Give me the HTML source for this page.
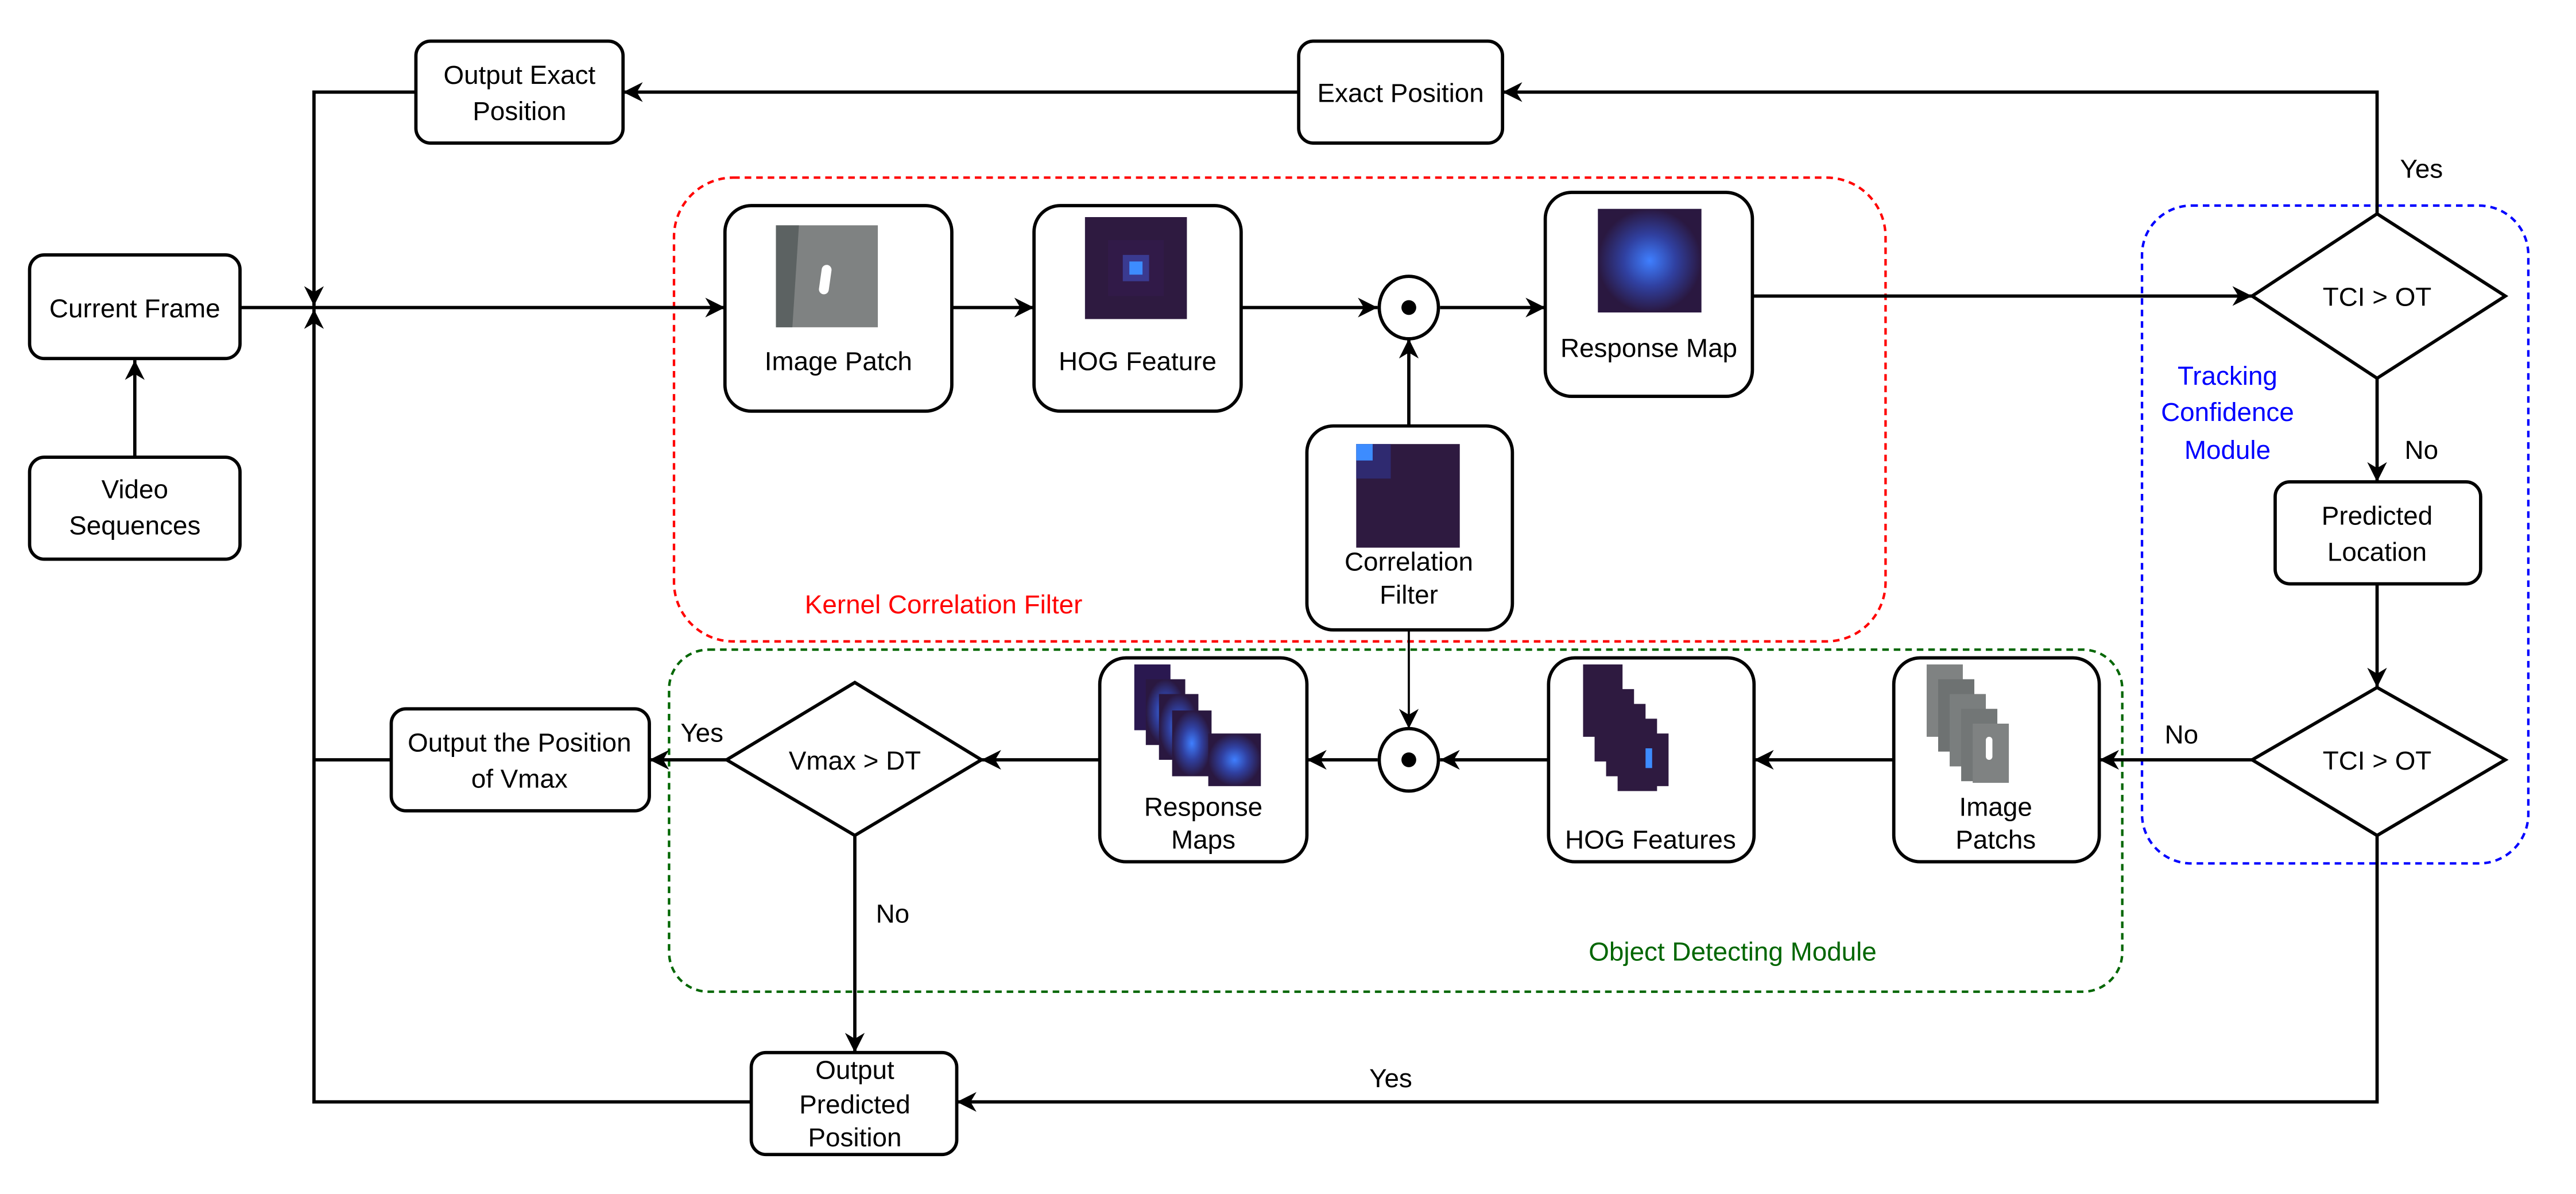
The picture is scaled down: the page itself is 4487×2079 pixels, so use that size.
<!DOCTYPE html>
<html><head><meta charset="utf-8"><style>
html,body{margin:0;padding:0;background:#fff;}
svg{display:block;}
text{font-family:"Liberation Sans",Arial,sans-serif;font-size:16px;fill:#000;text-anchor:middle;}
</style></head><body>
<svg width="4487" height="2079" viewBox="0 0 1567 726" preserveAspectRatio="none" xmlns="http://www.w3.org/2000/svg">
<defs>
<marker id="a" viewBox="0 0 10 10" refX="10" refY="5" markerWidth="13" markerHeight="12" markerUnits="userSpaceOnUse" orient="auto"><path d="M0,0 L10,5 L0,10 L3,5 Z" fill="#000"/></marker>
<radialGradient id="rg"><stop offset="0" stop-color="#3f7fff"/><stop offset="0.5" stop-color="#3040a0"/><stop offset="1" stop-color="#2a1840"/></radialGradient>
<g id="hog"><rect width="62" height="62" fill="#2e1a40"/><rect x="14" y="14" width="34" height="34" fill="#311a48"/><rect x="23" y="23" width="16" height="16" fill="#3a3a90"/><rect x="27" y="27" width="8" height="8" fill="#3d8cff"/></g>
<g id="patch"><rect width="62" height="62" fill="#7f8282"/><path d="M0,0 L14,0 L10,62 L0,62Z" fill="#5c6262"/><rect x="27" y="24" width="6" height="18" rx="3" fill="#fff" transform="rotate(8 30 33)"/></g>
</defs>

<rect x="410" y="108" width="737" height="282" rx="36" fill="none" stroke="#f00" stroke-width="1.5" stroke-dasharray="4,3"/>
<rect x="407" y="395" width="884" height="208" rx="24" fill="none" stroke="#060" stroke-width="1.5" stroke-dasharray="4,3"/>
<rect x="1303" y="125" width="235" height="400" rx="30" fill="none" stroke="#00f" stroke-width="1.5" stroke-dasharray="4,3"/>
<text x="574" y="373" style="fill:#f00">Kernel Correlation Filter</text>
<text x="1054" y="584" style="fill:#060">Object Detecting Module</text>
<text x="1355" y="234" style="fill:#00f">Tracking</text>
<text x="1355" y="256" style="fill:#00f">Confidence</text>
<text x="1355" y="279" style="fill:#00f">Module</text>

<g fill="none" stroke="#000" stroke-width="2">
<polyline points="253,56 191,56 191,186" marker-end="url(#a)"/>
<polyline points="457,670 191,670 191,188" marker-end="url(#a)"/>
<line x1="238" y1="462" x2="191" y2="462"/>
<line x1="82" y1="278" x2="82" y2="219" marker-end="url(#a)"/>
<line x1="146" y1="187" x2="441" y2="187" marker-end="url(#a)"/>
<line x1="579" y1="187" x2="629" y2="187" marker-end="url(#a)"/>
<line x1="755" y1="187" x2="838" y2="187" marker-end="url(#a)"/>
<line x1="876" y1="187" x2="940" y2="187" marker-end="url(#a)"/>
<line x1="857" y1="259" x2="857" y2="206" marker-end="url(#a)"/>
<line x1="857" y1="383" x2="857" y2="443" marker-end="url(#a)" stroke-width="1.3"/>
<line x1="1066" y1="180" x2="1370" y2="180" marker-end="url(#a)"/>
<polyline points="1446,130 1446,56 914,56" marker-end="url(#a)"/>
<line x1="790" y1="56" x2="379" y2="56" marker-end="url(#a)"/>
<line x1="1446" y1="230" x2="1446" y2="293" marker-end="url(#a)"/>
<line x1="1446" y1="355" x2="1446" y2="418" marker-end="url(#a)"/>
<line x1="1370" y1="462" x2="1277" y2="462" marker-end="url(#a)"/>
<line x1="1152" y1="462" x2="1067" y2="462" marker-end="url(#a)"/>
<line x1="942" y1="462" x2="876" y2="462" marker-end="url(#a)"/>
<line x1="838" y1="462" x2="795" y2="462" marker-end="url(#a)"/>
<line x1="669" y1="462" x2="597" y2="462" marker-end="url(#a)"/>
<line x1="442" y1="462" x2="395" y2="462" marker-end="url(#a)"/>
<line x1="520" y1="508" x2="520" y2="640" marker-end="url(#a)"/>
<polyline points="1446,508 1446,670 582,670" marker-end="url(#a)"/>

<rect x="253" y="25" width="126" height="62" rx="9" fill="#fff"/>
<rect x="790" y="25" width="124" height="62" rx="9" fill="#fff"/>
<rect x="18" y="155" width="128" height="63" rx="9" fill="#fff"/>
<rect x="18" y="278" width="128" height="62" rx="9" fill="#fff"/>
<rect x="441" y="125" width="138" height="125" rx="16" fill="#fff"/>
<rect x="629" y="125" width="126" height="125" rx="16" fill="#fff"/>
<rect x="940" y="117" width="126" height="124" rx="16" fill="#fff"/>
<rect x="795" y="259" width="125" height="124" rx="16" fill="#fff"/>
<rect x="1384" y="293" width="125" height="62" rx="9" fill="#fff"/>
<rect x="1152" y="400" width="125" height="124" rx="16" fill="#fff"/>
<rect x="942" y="400" width="125" height="124" rx="16" fill="#fff"/>
<rect x="669" y="400" width="126" height="124" rx="16" fill="#fff"/>
<rect x="238" y="431" width="157" height="62" rx="9" fill="#fff"/>
<rect x="457" y="640" width="125" height="62" rx="9" fill="#fff"/>
<ellipse cx="857" cy="187" rx="18" ry="19" fill="#fff"/>
<ellipse cx="857" cy="462" rx="18" ry="19" fill="#fff"/>
<polygon points="1370,180 1446,130 1524,180 1446,230" fill="#fff"/>
<polygon points="1370,462 1446,418 1524,462 1446,508" fill="#fff"/>
<polygon points="442,462 520,415 597,462 520,508" fill="#fff"/>
</g>
<circle cx="857" cy="187" r="4.5"/>
<circle cx="857" cy="462" r="4.5"/>

<use href="#patch" x="472" y="137"/>
<use href="#hog" x="660" y="132"/>
<rect x="972" y="127" width="63" height="63" fill="url(#rg)"/>
<rect x="825" y="270" width="63" height="63" fill="#2e1a40"/><rect x="825" y="270" width="21" height="21" fill="#2f2a70"/><rect x="825" y="270" width="10" height="10" fill="#3d8cff"/>
<g>
<rect x="963" y="404" width="24" height="44" fill="#2e1a40"/>
<rect x="970" y="419" width="24" height="44" fill="#2e1a40"/>
<rect x="977" y="428" width="24" height="44" fill="#2e1a40"/>
<rect x="984" y="437" width="24" height="44" fill="#2e1a40"/>
<rect x="991" y="446" width="24" height="32" fill="#2e1a40"/>
<rect x="1001" y="455" width="4" height="12" fill="#3d8cff"/>
</g>
<g>
<rect x="1172" y="404" width="22" height="44" fill="#7f8282"/>
<rect x="1179" y="413" width="22" height="44" fill="#6e7272"/>
<rect x="1186" y="422" width="22" height="44" fill="#7a7e7e"/>
<rect x="1193" y="431" width="22" height="44" fill="#727676"/>
<rect x="1200" y="440" width="22" height="36" fill="#7f8282"/>
<rect x="1208" y="448" width="4" height="14" rx="2" fill="#fff"/>
</g>
<g>
<rect x="690" y="404" width="22" height="40" fill="#2a1850"/>
<rect x="697" y="413" width="24" height="40" fill="url(#rg)"/>
<rect x="705" y="422" width="24" height="40" fill="url(#rg)"/>
<rect x="713" y="432" width="24" height="40" fill="url(#rg)"/>
<rect x="735" y="446" width="32" height="32" fill="url(#rg)"/>
</g>

<text x="316" y="51">Output Exact</text><text x="316" y="73">Position</text>
<text x="852" y="62">Exact Position</text>
<text x="82" y="193">Current Frame</text>
<text x="82" y="303">Video</text><text x="82" y="325">Sequences</text>
<text x="510" y="225">Image Patch</text>
<text x="692" y="225">HOG Feature</text>
<text x="1003" y="217">Response Map</text>
<text x="857" y="347">Correlation</text><text x="857" y="367">Filter</text>
<text x="1446" y="186">TCI &gt; OT</text>
<text x="1446" y="319">Predicted</text><text x="1446" y="341">Location</text>
<text x="1446" y="468">TCI &gt; OT</text>
<text x="1214" y="496">Image</text><text x="1214" y="516">Patchs</text>
<text x="1004" y="516">HOG Features</text>
<text x="732" y="496">Response</text><text x="732" y="516">Maps</text>
<text x="520" y="468">Vmax &gt; DT</text>
<text x="316" y="457">Output the Position</text><text x="316" y="479">of Vmax</text>
<text x="520" y="656">Output</text><text x="520" y="677">Predicted</text><text x="520" y="697">Position</text>
<text x="1473" y="108">Yes</text>
<text x="1473" y="279">No</text>
<text x="1327" y="452">No</text>
<text x="427" y="451">Yes</text>
<text x="543" y="561">No</text>
<text x="846" y="661">Yes</text>
</svg>
</body></html>
